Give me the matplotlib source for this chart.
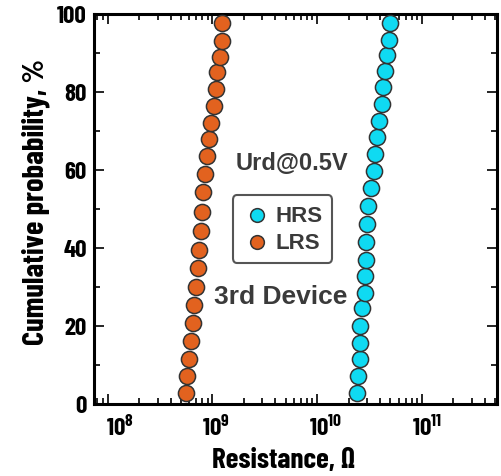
import matplotlib
matplotlib.use('Agg')
import matplotlib.pyplot as plt
import matplotlib.transforms as mtransforms
import numpy as np

# values
lrs_res = [5.57e8, 5.78e8, 5.99e8, 6.21e8, 6.53e8, 6.68e8, 6.93e8, 7.29e8, 7.45e8, 7.74e8, 7.91e8,
           8.21e8, 8.51e8, 8.83e8, 9.29e8, 9.78e8, 1.045e9, 1.075e9, 1.116e9, 1.181e9, 1.226e9, 1.23e9]
lrs_prob = [2.9, 7.1, 11.6, 16.1, 20.7, 25.3, 29.9, 34.8, 39.5, 44.4, 49.2,
            54.3, 59.0, 63.5, 67.8, 72.0, 76.4, 80.7, 85.0, 89.0, 93.1, 97.6]

hrs_res = [2.40e10, 2.44e10, 2.55e10, 2.55e10, 2.58e10, 2.68e10, 2.84e10, 2.88e10, 2.95e10, 2.95e10,
           2.99e10, 3.06e10, 3.27e10, 3.46e10, 3.54e10, 3.73e10, 3.86e10, 4.16e10, 4.25e10, 4.41e10,
           4.64e10, 4.81e10, 4.99e10]
hrs_prob = [2.9, 7.1, 11.4, 15.7, 20.0, 24.5, 28.4, 32.9, 37.0, 41.6, 46.1, 50.8,
            55.4, 59.8, 64.0, 68.3, 72.5, 77.0, 81.3, 85.4, 89.4, 93.4, 97.6]

x_ticks = [1e8, 1e9, 1e10, 1e11]
x_ticklabels = [r'$\mathdefault{10^{8}}$', r'$\mathdefault{10^{9}}$',
                r'$\mathdefault{10^{10}}$', r'$\mathdefault{10^{11}}$']
y_ticks = [0, 20, 40, 60, 80, 100]

plt.rcParams['font.family'] = ['Barlow Condensed', 'DejaVu Sans']
plt.rcParams['font.weight'] = 'bold'
plt.rcParams['axes.labelweight'] = 'bold'

fig = plt.figure(figsize=(5.02, 4.77), dpi=100)
ax = fig.add_axes([0.187, 0.151, 0.803, 0.818])

ax.scatter(hrs_res, hrs_prob, s=135, c='#0fdaf2', edgecolors='#333333', linewidths=1.1,
           zorder=3, label='HRS')
ax.scatter(lrs_res, lrs_prob, s=135, c='#e2621f', edgecolors='#333333', linewidths=1.1,
           zorder=3, label='LRS')

ax.set_xscale('log')
ax.set_xlim(7.4e7, 5.2e11)
ax.set_ylim(0, 100)
ax.set_xticks(x_ticks, x_ticklabels)
ax.set_yticks(y_ticks)
ax.set_yticks([10, 30, 50, 70, 90], minor=True)

for s in ax.spines.values():
    s.set_linewidth(2.2)
ax.tick_params(which='both', direction='in', top=True, right=True, width=1.2)
ax.tick_params(which='major', length=7)
ax.tick_params(which='minor', length=4)
ax.tick_params(axis='y', labelsize=18, pad=5)
ax.tick_params(axis='x', labelsize=18, pad=8)

# the "10" sits on the tick, the exponent hangs to the right
for lab, dx in zip(ax.get_xticklabels(), [12, 4, 8, 5]):
    lab.set_transform(lab.get_transform() + mtransforms.ScaledTranslation(dx / 100, 0, fig.dpi_scale_trans))

ax.set_xlabel('Resistance, Ω', fontsize=21, labelpad=5)
ax.set_ylabel('Cumulative probability, %', fontsize=22, labelpad=5)
ax.xaxis.label.set_x(0.47)
ax.yaxis.label.set_y(0.52)

ax.text(5.8e9, 62, 'Urd@0.5V', fontsize=17, fontweight='bold', family='Liberation Sans',
        color='#3a3a3a', ha='center', va='center')
ax.text(4.5e9, 27.6, '3rd Device', fontsize=19, fontweight='bold', family='Liberation Sans',
        color='#3a3a3a', ha='center', va='center')

leg = ax.legend(loc='lower left', bbox_to_anchor=(0.345, 0.362), frameon=True, fancybox=True,
                prop={'family': 'Liberation Sans', 'weight': 'bold', 'size': 16},
                handletextpad=0.15, borderpad=0.45, labelspacing=0.25, handlelength=1.3,
                markerscale=0.85, borderaxespad=0)
leg.get_frame().set_edgecolor('#555555')
leg.get_frame().set_linewidth(1.5)
leg.get_frame().set_alpha(1)
for t in leg.get_texts():
    t.set_color('#3a3a3a')

fig.savefig('out.png', dpi=100)
